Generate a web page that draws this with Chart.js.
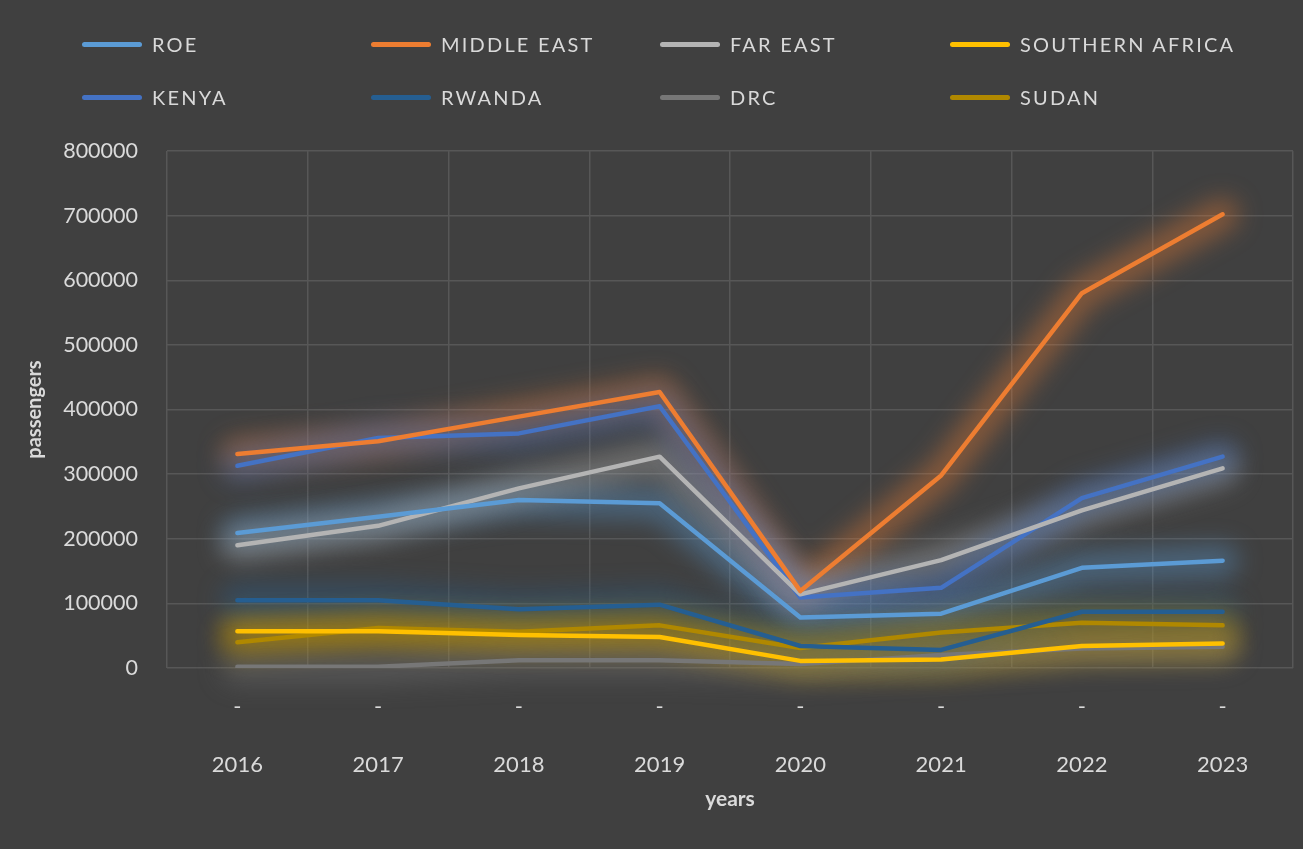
<!DOCTYPE html>
<html>
<head>
<meta charset="utf-8">
<script src="https://cdn.jsdelivr.net/npm/chart.js@4.4.1/dist/chart.umd.min.js"></script>
<style>
  html, body { margin: 0; padding: 0; background: #404040; }
  #wrap { position: relative; width: 1303px; height: 849px; }
  #legend { position: absolute; left: 0; top: 0; width: 1303px; height: 130px; }
  .item { position: absolute; display: flex; align-items: center; font-family: Lato, sans-serif; font-size: 20px; letter-spacing: 2.2px; color: #d9d9d9; }
  .swatch { width: 60px; height: 5px; border-radius: 3px; margin-right: 10px; }
</style>
</head>
<body>
<div id="wrap">
  <canvas id="chart" width="1303" height="849"></canvas>
  <div id="legend"></div>
</div>
<script>
// Données (passagers par année)
const years = ['2016', '2017', '2018', '2019', '2020', '2021', '2022', '2023']
const seriesNames = ['ROE', 'MIDDLE EAST', 'FAR EAST', 'SOUTHERN AFRICA', 'KENYA', 'RWANDA', 'DRC', 'SUDAN']

const roe = [209000, 234000, 260000, 255000, 78000, 84000, 155000, 166000]
const middleEast = [331000, 351000, 389000, 427000, 119000, 298000, 580000, 702000]
const farEast = [190000, 220000, 278000, 327000, 114000, 167000, 244000, 309000]
const southernAfrica = [57000, 57000, 51000, 48000, 11000, 13000, 34000, 38000]
const kenya = [313000, 356000, 363000, 405000, 109000, 124000, 263000, 327000]
const rwanda = [105000, 105000, 91000, 98000, 34000, 28000, 87000, 87000]
const drc = [2000, 2000, 12000, 12000, 6000, 20000, 30000, 33000]
const sudan = [40000, 62000, 56000, 66000, 31000, 55000, 70000, 66000]

const yTicks = [0, 100000, 200000, 300000, 400000, 500000, 600000, 700000, 800000]

const colors = ['#5b9bd5', '#ed7d31', '#b4b4b4', '#ffc000', '#4472c4', '#255e91', '#777777', '#b08800']
const values = [roe, middleEast, farEast, southernAfrica, kenya, rwanda, drc, sudan]

const textColor = '#dadada'

// effet "glow" façon Excel : halo flou sous chaque courbe, à partir des points calculés par Chart.js
const glowPlugin = {
  id: 'glow',
  beforeDatasetsDraw(chart) {
    const ctx = chart.ctx
    ctx.save()
    ctx.filter = 'blur(12px)'
    ctx.lineJoin = 'round'
    ctx.lineCap = 'round'
    chart.data.datasets.forEach((ds, i) => {
      const pts = chart.getDatasetMeta(i).data
      ctx.beginPath()
      pts.forEach((p, j) => j ? ctx.lineTo(p.x, p.y) : ctx.moveTo(p.x, p.y))
      ctx.strokeStyle = colors[i] + '66'
      ctx.lineWidth = 32
      ctx.stroke()
    })
    ctx.restore()
  }
}

new Chart(document.getElementById('chart'), {
  type: 'line',
  data: {
    labels: years.map(y => ['-', '', y]),
    datasets: seriesNames.map((name, i) => ({
      label: name,
      data: values[i],
      borderColor: colors[i],
      backgroundColor: colors[i],
      borderWidth: 4.5,
      borderCapStyle: 'round',
      borderJoinStyle: 'round',
      pointRadius: 0,
      tension: 0
    }))
  },
  options: {
    responsive: false,
    animation: false,
    layout: { padding: { top: 151, right: 10, bottom: 0, left: 0 } },
    plugins: {
      legend: { display: false },
      tooltip: { enabled: false }
    },
    scales: {
      x: {
        offset: true,
        grid: { color: '#575757', lineWidth: 1.5, offset: true, drawTicks: false },
        border: { display: false },
        ticks: {
          color: textColor,
          padding: 25,
          maxRotation: 0,
          font: { family: 'Lato', size: 22, lineHeight: 1.3 }
        },
        title: {
          display: true,
          text: 'years',
          color: textColor,
          padding: { top: 0, bottom: 37 },
          font: { family: 'Lato', size: 21, weight: 'bold' }
        },
        afterFit(scale) { scale.height = 181 }
      },
      y: {
        min: 0,
        max: 800000,
        afterBuildTicks(scale) { scale.ticks = yTicks.map(v => ({ value: v })) },
        grid: { color: '#575757', lineWidth: 1.5, drawTicks: false },
        border: { display: false },
        ticks: {
          color: textColor,
          padding: 29,
          font: { family: 'Lato', size: 21.5 },
          callback: v => String(v)
        },
        title: {
          display: true,
          text: 'passengers',
          color: textColor,
          padding: { top: 23, bottom: 0 },
          font: { family: 'Lato', size: 20, weight: 'bold' }
        },
        afterFit(scale) { scale.width = 167 }
      }
    }
  },
  plugins: [glowPlugin]
})

// Légende HTML en colonnes fixes
const legendEl = document.getElementById('legend')
const colX = [82, 371, 660, 950]
const rowY = [44, 97]
seriesNames.forEach((name, i) => {
  const item = document.createElement('div')
  item.className = 'item'
  item.style.left = colX[i % 4] + 'px'
  item.style.top = (rowY[Math.floor(i / 4)] - 12) + 'px'
  item.style.height = '24px'
  const sw = document.createElement('span')
  sw.className = 'swatch'
  sw.style.background = colors[i]
  const txt = document.createElement('span')
  txt.textContent = name
  item.appendChild(sw)
  item.appendChild(txt)
  legendEl.appendChild(item)
})
</script>
</body>
</html>
